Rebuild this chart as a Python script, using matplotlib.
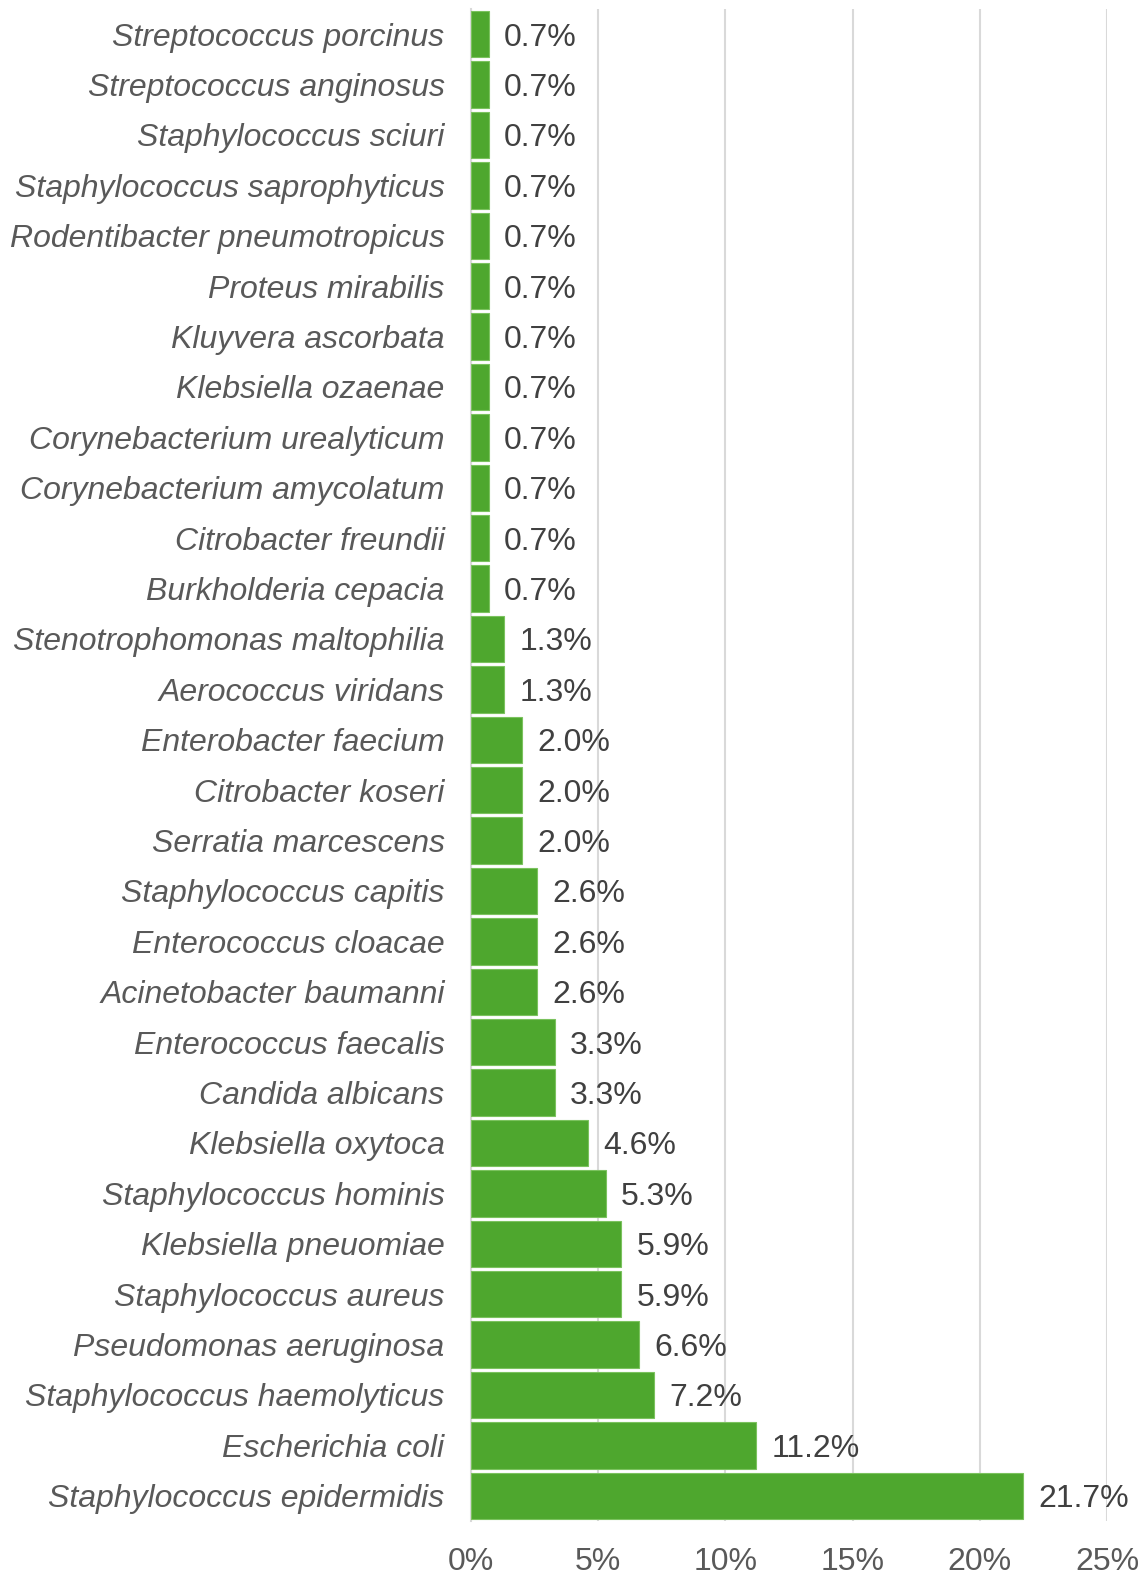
import matplotlib
matplotlib.use("Agg")
import matplotlib.pyplot as plt
from matplotlib.ticker import FuncFormatter

# data, top to bottom as in the chart
species = [
    "Streptococcus porcinus", "Streptococcus anginosus", "Staphylococcus sciuri",
    "Staphylococcus saprophyticus", "Rodentibacter pneumotropicus", "Proteus mirabilis",
    "Kluyvera ascorbata", "Klebsiella ozaenae", "Corynebacterium urealyticum",
    "Corynebacterium amycolatum", "Citrobacter freundii", "Burkholderia cepacia",
    "Stenotrophomonas maltophilia", "Aerococcus viridans", "Enterobacter faecium",
    "Citrobacter koseri", "Serratia marcescens", "Staphylococcus capitis",
    "Enterococcus cloacae", "Acinetobacter baumanni", "Enterococcus faecalis",
    "Candida albicans", "Klebsiella oxytoca", "Staphylococcus hominis",
    "Klebsiella pneuomiae", "Staphylococcus aureus", "Pseudomonas aeruginosa",
    "Staphylococcus haemolyticus", "Escherichia coli", "Staphylococcus epidermidis",
]
percent = [
    0.7, 0.7, 0.7, 0.7, 0.7, 0.7, 0.7, 0.7, 0.7, 0.7, 0.7, 0.7,
    1.3, 1.3, 2.0, 2.0, 2.0, 2.6, 2.6, 2.6, 3.3, 3.3, 4.6, 5.3,
    5.9, 5.9, 6.6, 7.2, 11.2, 21.7,
]
x_ticks = [0, 5, 10, 15, 20, 25]

plt.rcParams["font.family"] = ["Liberation Sans", "DejaVu Sans"]

fig = plt.figure(figsize=(11.46, 15.76), dpi=100)
ax = fig.add_axes([0.411, 0.0349, 0.555, 0.9594])

y = list(range(len(species)))
ax.barh(y, percent, height=0.92, color="#4EA72E", edgecolor="#7BC25E",
        linewidth=0.8, zorder=3)

for yi, v in zip(y, percent):
    ax.text(v + 0.6, yi, f"{v:.1f}%", va="center_baseline", ha="left",
            fontsize=23, color="#404040", zorder=4)

ax.set_ylim(len(species) - 0.5, -0.5)
ax.set_yticks(y)
ax.set_yticklabels(species, fontsize=23, color="#595959", style="italic")
for lab in ax.get_yticklabels():
    lab.set_verticalalignment("center_baseline")
ax.tick_params(axis="y", length=0, pad=19)

ax.set_xlim(0, 25)
ax.set_xticks(x_ticks)
ax.xaxis.set_major_formatter(FuncFormatter(lambda v, p: f"{v:.0f}%"))
ax.tick_params(axis="x", length=0, labelsize=23, labelcolor="#595959", pad=19)
ax.grid(axis="x", color="#D9D9D9", linewidth=1.5, zorder=0)

for s in ["top", "right", "bottom"]:
    ax.spines[s].set_visible(False)
ax.spines["left"].set_color("#D9D9D9")
ax.spines["left"].set_linewidth(1.5)

fig.savefig("out.png", dpi=100)
